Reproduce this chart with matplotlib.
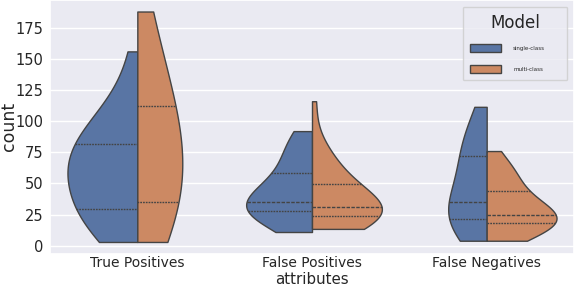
import numpy as np
import pandas as pd
import matplotlib
matplotlib.use("Agg")
import matplotlib.pyplot as plt
import seaborn as sns

categories = ["True Positives", "False Positives", "False Negatives"]
models = ["single-class", "multi-class"]

tp_single = [3, 6, 10, 14, 18, 22, 26, 29, 31, 36, 42, 47, 52, 56, 60,
             63, 66, 69, 72, 75, 78, 80, 82, 90, 95, 99, 104, 112, 130, 156]
tp_multi = [3, 12, 24, 35, 50, 62, 74, 86, 100, 112, 130, 155, 188]
fp_single = [11, 17, 20, 22, 24, 25, 26, 27, 29, 30, 31, 32, 33, 34, 34,
             36, 38, 41, 44, 48, 53, 56, 59, 66, 70, 75, 80, 85, 89, 92]
fp_multi = [13.5, 14, 15, 16, 18, 20, 22, 23, 25.5, 26, 27, 28, 29, 30, 30,
            31.5, 33, 35, 37, 40, 43, 47, 50, 54, 58, 63, 68, 74, 82, 116]
fn_single = [4, 6, 9, 12, 15, 17, 19, 21, 23, 25, 27, 29, 31, 33, 34,
             36, 44, 52, 58, 63, 67, 71, 72, 76, 81, 86, 91, 97, 104, 111.5]
fn_multi = [4, 7, 9, 11, 13, 15, 16, 18, 19, 20, 21, 22, 23, 23.5, 24,
            25, 26, 28, 30, 33, 37, 42, 45, 49, 53, 56, 60, 63, 67, 76]

yticks = [0, 25, 50, 75, 100, 125, 150, 175]

sns.set_theme(style="darkgrid")
plt.rcParams['font.family'] = ['DejaVu Sans']

groups = [
    (categories[0], models[0], tp_single),
    (categories[0], models[1], tp_multi),
    (categories[1], models[0], fp_single),
    (categories[1], models[1], fp_multi),
    (categories[2], models[0], fn_single),
    (categories[2], models[1], fn_multi),
]
rows = []
for cat, model, vals in groups:
    for v in vals:
        rows.append((cat, model, v))
df = pd.DataFrame(rows, columns=["attributes", "Model", "count"])

palette = {"single-class": "#4C72B0", "multi-class": "#DD8452"}

fig = plt.figure(figsize=(5.74, 2.9), dpi=100)
ax = fig.add_axes([50 / 574, 36.5 / 290, 524 / 574, 253.5 / 290])

handles, labels = None, None
for i, cat in enumerate(categories):
    sub = df[df["attributes"] == cat]
    n_before = len(ax.lines)
    sns.violinplot(data=sub, x="attributes", y="count", hue="Model",
                   order=categories, hue_order=models, split=True,
                   inner="quart", cut=0, density_norm="area", common_norm=True,
                   bw_adjust=1.4, palette=palette, linewidth=1,
                   linecolor="#444444", legend=(i == 0), ax=ax)
    if i == 0:
        leg0 = ax.get_legend()
        handles = leg0.legend_handles
        labels = [t.get_text() for t in leg0.get_texts()]
        # reference shows no median line for True Positives
        meds = [np.percentile(tp_single, 50), np.percentile(tp_multi, 50)]
        for ln in list(ax.lines[n_before:]):
            yd = np.asarray(ln.get_ydata(), dtype=float)
            if any(np.allclose(yd, m) for m in meds):
                ln.remove()

ax.set_xlim(-0.5, 2.5)
ax.set_ylim(-6.25, 197.25)
ax.set_yticks(yticks)
ax.tick_params(axis="x", labelsize=10, length=0, pad=1.5)
ax.tick_params(axis="y", labelsize=10.5, length=0, pad=4.5)
ax.set_xlabel("attributes", fontsize=10.8)
ax.set_ylabel("count", fontsize=12.5)
ax.xaxis.set_label_coords(0.5, -0.0738)
ax.yaxis.set_label_coords(-0.061, 0.5)

leg = ax.legend(handles, labels, title="Model",
                loc="upper left", bbox_to_anchor=(0.7882, 0.5, 0.1985, 0.4725),
                mode="expand", borderaxespad=0, prop={"size": 4},
                title_fontsize=12, handlelength=5.6, handleheight=2.0,
                labelspacing=2.2, handletextpad=2.2, borderpad=1.2)

fig.savefig("out.png", dpi=100)
